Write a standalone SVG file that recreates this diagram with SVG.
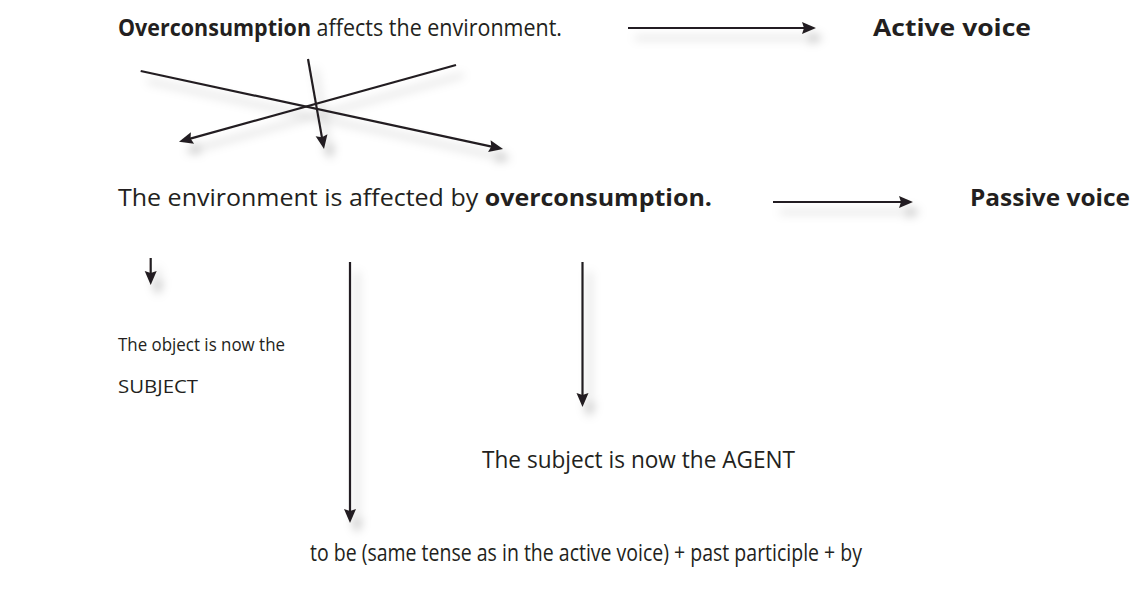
<svg xmlns="http://www.w3.org/2000/svg" width="1148" height="590" viewBox="0 0 1148 590">
<style>
  text { font-family: "Open Sans", "Noto Sans", "Liberation Sans", sans-serif; font-size: 23px; fill: #231f20; }
  .b { font-weight: bold; }
  .sm { font-size: 19px; }
  .conn line { stroke: #231f20; stroke-width: 2.2; fill: none; marker-end: url(#ah); }
</style>
<defs>
  <marker id="ah" markerUnits="userSpaceOnUse" markerWidth="20" markerHeight="16" viewBox="0 -8 16 16" refX="6" refY="0" orient="auto">
    <path d="M0,-6 L14,0 L0,6 L2,0 Z" fill="#231f20"/>
  </marker>
  <filter id="sh" x="-20%" y="-50%" width="150%" height="300%">
    <feDropShadow dx="7" dy="10" stdDeviation="5" flood-color="#000" flood-opacity="0.25"/>
  </filter>
</defs>
<rect width="1148" height="590" fill="#ffffff"/>

<g id="connectors" class="conn" filter="url(#sh)">
  <line x1="628" y1="28" x2="808" y2="28"/>
  <line x1="140.7" y1="71" x2="495.2" y2="147.3"/>
  <line x1="456" y1="65" x2="186.7" y2="139.6"/>
  <line x1="308" y1="59" x2="322.6" y2="141.1"/>
  <line x1="773" y1="202" x2="905" y2="202"/>
  <line x1="150.7" y1="258" x2="150.7" y2="277"/>
  <line x1="350" y1="262" x2="350" y2="515"/>
  <line x1="582.5" y1="262" x2="582.5" y2="399"/>
</g>

<g id="active-sentence">
  <text x="118" y="36" textLength="444" lengthAdjust="spacingAndGlyphs"><tspan class="b">Overconsumption</tspan> affects the environment.</text>
</g>
<g id="active-label">
  <text x="873" y="36" class="b" textLength="158" lengthAdjust="spacingAndGlyphs">Active voice</text>
</g>
<g id="passive-sentence">
  <text x="118" y="206" textLength="594" lengthAdjust="spacingAndGlyphs">The environment is affected by <tspan class="b">overconsumption.</tspan></text>
</g>
<g id="passive-label">
  <text x="970" y="206" class="b" textLength="160" lengthAdjust="spacingAndGlyphs">Passive voice</text>
</g>
<g id="object-note">
  <text x="118" y="351" class="sm" textLength="167" lengthAdjust="spacingAndGlyphs">The object is now the</text>
  <text x="118" y="393" class="sm" textLength="80" lengthAdjust="spacingAndGlyphs">SUBJECT</text>
</g>
<g id="agent-note">
  <text x="482" y="468" textLength="313" lengthAdjust="spacingAndGlyphs">The subject is now the AGENT</text>
</g>
<g id="formula">
  <text x="310" y="561" textLength="552" lengthAdjust="spacingAndGlyphs">to be (same tense as in the active voice) + past participle + by</text>
</g>
</svg>
